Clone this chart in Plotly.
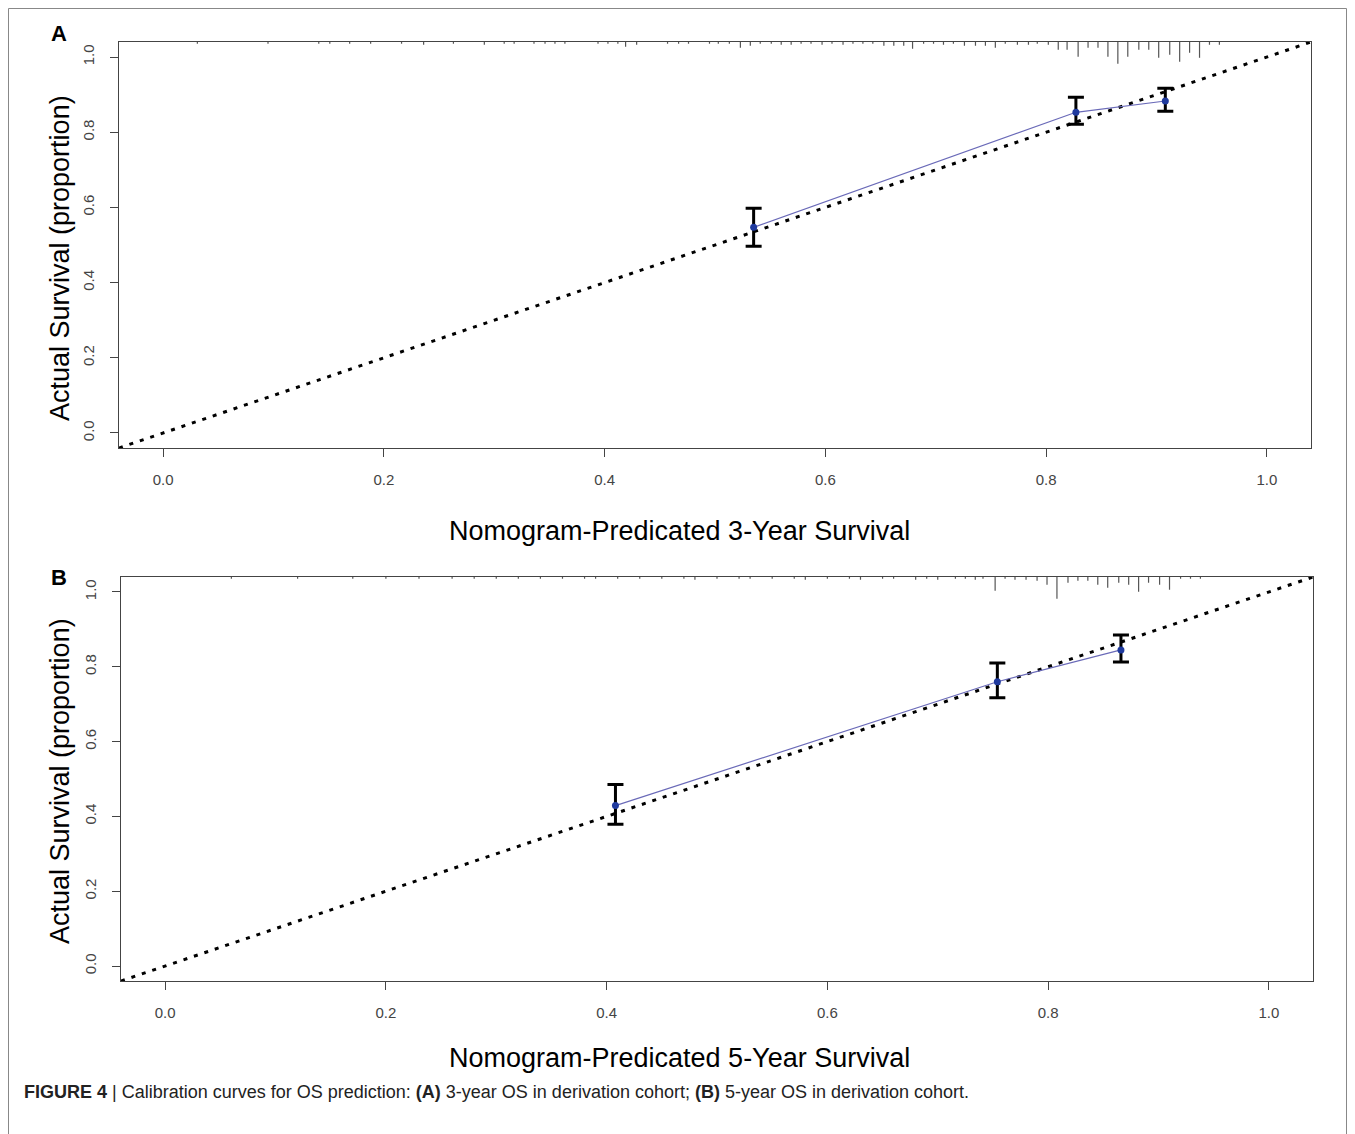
import plotly.graph_objects as go

# ---------------- data ----------------
# Panel A: 3-year survival calibration
pred_a = [0.535, 0.827, 0.908]
obs_a = [0.547, 0.853, 0.883]
obs_a_hi = [0.598, 0.893, 0.917]
obs_a_lo = [0.497, 0.821, 0.856]

# Panel B: 5-year survival calibration
pred_b = [0.408, 0.754, 0.866]
obs_b = [0.429, 0.760, 0.845]
obs_b_hi = [0.485, 0.810, 0.885]
obs_b_lo = [0.379, 0.717, 0.813]

# distribution of predicted values (top rug spikes: position, relative frequency)
rug_a_x = [0.031, 0.095, 0.141, 0.151, 0.169, 0.188, 0.216, 0.236, 0.263, 0.291, 0.309, 0.318,
           0.336, 0.346, 0.355, 0.364, 0.394, 0.403, 0.412, 0.419, 0.429, 0.457, 0.467, 0.476,
           0.495, 0.503, 0.513, 0.523, 0.532, 0.541, 0.551, 0.560, 0.569, 0.578, 0.587, 0.597,
           0.606, 0.616, 0.625, 0.634, 0.643, 0.653, 0.662, 0.671, 0.679, 0.689, 0.698, 0.707,
           0.716, 0.726, 0.736, 0.745, 0.754, 0.763, 0.774, 0.784, 0.792, 0.802, 0.811, 0.819,
           0.829, 0.838, 0.847, 0.856, 0.865, 0.874, 0.884, 0.893, 0.902, 0.912, 0.921, 0.930,
           0.939, 0.948, 0.957]
rug_a_f = [1, 1, 1, 1, 1, 1, 1, 2, 1, 2, 1, 1,
           1, 1, 1, 1, 1, 1, 1, 4, 2, 1, 1, 1,
           1, 1, 1, 5, 3, 1, 1, 2, 2, 1, 1, 2,
           1, 2, 1, 1, 1, 3, 3, 3, 6, 1, 1, 2,
           1, 3, 3, 3, 5, 1, 2, 2, 1, 2, 7, 7,
           14, 5, 5, 14, 21, 14, 7, 7, 15, 12, 19, 10,
           15, 2, 2]

rug_b_x = [0.060, 0.120, 0.170, 0.200, 0.230, 0.260, 0.280, 0.300, 0.320, 0.340, 0.360, 0.380,
           0.390, 0.410, 0.430, 0.450, 0.470, 0.480, 0.500, 0.520, 0.530, 0.550, 0.570, 0.580,
           0.600, 0.620, 0.630, 0.650, 0.660, 0.680, 0.690, 0.700, 0.716, 0.725, 0.734, 0.741,
           0.752, 0.761, 0.770, 0.780, 0.790, 0.799, 0.808, 0.818, 0.827, 0.836, 0.845, 0.854,
           0.864, 0.873, 0.882, 0.891, 0.901, 0.910, 0.920, 0.929, 0.938]
rug_b_f = [1, 1, 1, 1, 1, 1, 1, 1, 1, 1, 1, 1,
           1, 1, 1, 1, 1, 2, 1, 1, 1, 1, 1, 2,
           1, 1, 2, 1, 1, 2, 1, 2, 1, 1, 2, 1,
           13, 1, 2, 2, 3, 7, 21, 5, 3, 3, 7, 10,
           5, 7, 14, 5, 7, 12, 1, 1, 1]

ticks = [0.0, 0.2, 0.4, 0.6, 0.8, 1.0]
title_y = "Actual Survival (proportion)"
title_xa = "Nomogram-Predicated 3-Year Survival"
title_xb = "Nomogram-Predicated 5-Year Survival"
caption = ("<b>FIGURE 4</b> | Calibration curves for OS prediction: <b>(A)</b> 3-year OS in derivation cohort; "
           "<b>(B)</b> 5-year OS in derivation cohort.")

# ---------------- figure ----------------
OFF = 8  # page body margin
W, H = 1355 - OFF, 1134 - OFF
RNG = [-0.04, 1.04]
FONT = "Liberation Sans, Arial, sans-serif"
SPIKE = 1.0 / 375.0  # data units per frequency unit


def px(x):
    return (x - OFF) / W


def py(y):
    return 1 - (y - OFF) / H


fig = go.Figure()


def add_panel(xa, ya, pred, obs, hi, lo, rx, rf):
    # ideal diagonal
    fig.add_trace(go.Scatter(x=RNG, y=RNG, mode="lines", xaxis=xa, yaxis=ya,
                             line=dict(color="black", width=3, dash="4px,7px"),
                             showlegend=False, hoverinfo="skip"))
    # rug spikes along top
    sx, sy = [], []
    for x, f in zip(rx, rf):
        sx += [x, x, None]
        sy += [RNG[1], RNG[1] - f * SPIKE - 0.002, None]
    fig.add_trace(go.Scatter(x=sx, y=sy, mode="lines", xaxis=xa, yaxis=ya,
                             line=dict(color="#555555", width=1.2),
                             showlegend=False, hoverinfo="skip"))
    # calibration curve
    fig.add_trace(go.Scatter(x=pred, y=obs, mode="lines", xaxis=xa, yaxis=ya,
                             line=dict(color="#6a6ab8", width=1.2),
                             showlegend=False))
    fig.add_trace(go.Scatter(
        x=pred, y=obs, mode="markers", xaxis=xa, yaxis=ya,
        marker=dict(color="#1f3a9e", size=7),
        error_y=dict(type="data", symmetric=False,
                     array=[h - o for h, o in zip(hi, obs)],
                     arrayminus=[o - l for o, l in zip(obs, lo)],
                     color="black", thickness=3, width=8),
        showlegend=False))


add_panel("x", "y", pred_a, obs_a, obs_a_hi, obs_a_lo, rug_a_x, rug_a_f)
add_panel("x2", "y2", pred_b, obs_b, obs_b_hi, obs_b_lo, rug_b_x, rug_b_f)

axis_common = dict(range=RNG, tickvals=ticks, ticktext=["%.1f" % t for t in ticks],
                   showgrid=False, zeroline=False, showline=True, mirror=True,
                   linecolor="#444444", linewidth=1, ticks="outside", ticklen=8,
                   tickcolor="#444444", tickfont=dict(family=FONT, size=15, color="#444444"))

fig.update_layout(
    width=W, height=H, margin=dict(l=0, r=0, t=0, b=0),
    paper_bgcolor="white", plot_bgcolor="white", showlegend=False,
    xaxis=dict(domain=[px(119), px(1311)], anchor="y", ticklabelstandoff=10, **axis_common),
    yaxis=dict(domain=[py(448), py(42)], anchor="x", tickangle=-90, ticklabelstandoff=10,
               **axis_common),
    xaxis2=dict(domain=[px(121), px(1313)], anchor="y2", ticklabelstandoff=10, **axis_common),
    yaxis2=dict(domain=[py(981), py(577)], anchor="x2", tickangle=-90, ticklabelstandoff=10,
                **axis_common),
)

ann = [
    dict(text="<b>A</b>", x=px(59), y=py(34), size=22),
    dict(text="<b>B</b>", x=px(59), y=py(577), size=22),
    dict(text=title_xa, x=px(679), y=py(531), size=27),
    dict(text=title_xb, x=px(679), y=py(1058), size=27),
]
for a in ann:
    fig.add_annotation(text=a["text"], x=a["x"], y=a["y"], xref="paper", yref="paper",
                       showarrow=False, xanchor="center", yanchor="middle",
                       font=dict(family=FONT, size=a["size"], color="black"))
for yc in (258, 781):
    fig.add_annotation(text=title_y, x=px(60), y=py(yc), xref="paper", yref="paper",
                       showarrow=False, textangle=-90, xanchor="center", yanchor="middle",
                       font=dict(family=FONT, size=27, color="black"))
fig.add_annotation(text=caption, x=px(22), y=py(1092), xref="paper", yref="paper",
                   showarrow=False, xanchor="left", yanchor="middle",
                   font=dict(family=FONT, size=18, color="#222222"))

# outer frame
fig.add_shape(type="rect", xref="paper", yref="paper", x0=px(8.5), x1=px(1346.5),
              y0=py(1140), y1=py(8.5), line=dict(color="#888888", width=1))

fig.write_html("out.html")
